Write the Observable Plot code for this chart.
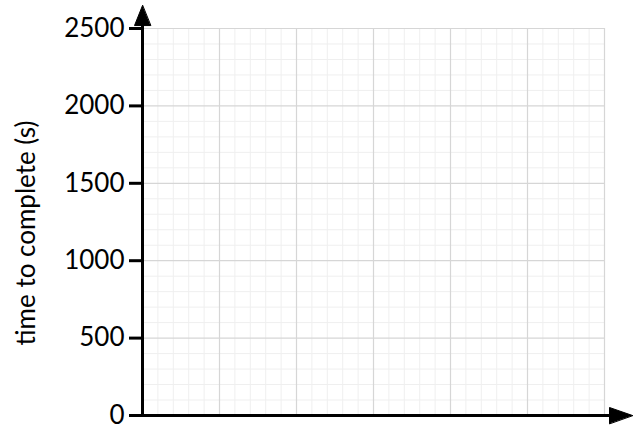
<!DOCTYPE html>
<html>
<head>
<meta charset="utf-8">
<script src="https://cdn.jsdelivr.net/npm/d3@7"></script>
<script src="https://cdn.jsdelivr.net/npm/@observablehq/plot@0.6"></script>
<style>
  html, body { margin: 0; padding: 0; background: #fff; }
  #chart svg { display: block; }
</style>
</head>
<body>
<div id="chart"></div>
<script>
// Axis ranges and tick values
const xDomain = [0, 6];
const yDomain = [0, 2500];
const xMajor = [1, 2, 3, 4, 5, 6];
const yMajor = [500, 1000, 1500, 2000, 2500];
const yTickLabels = [0, 500, 1000, 1500, 2000, 2500];
const xMinor = d3.range(0.2, 6.01, 0.2).filter(v => Math.abs(v - Math.round(v)) > 1e-6);
const yMinor = d3.range(100, 2501, 100).filter(v => v % 500 !== 0);
const yLabel = "time to complete (s)";

// Arrow ends (axis extents beyond the plotted frame)
const xArrowBase = 6.065;
const yArrowBase = 2519;

const triangle = (w) => ({
  draw(context, l) {
    context.moveTo(0, -l);
    context.lineTo(-w, 0);
    context.lineTo(w, 0);
    context.closePath();
  }
});

const chart = Plot.plot({
  width: 640,
  height: 448,
  marginLeft: 142,
  marginRight: 36,
  marginTop: 28,
  marginBottom: 33,
  style: {fontFamily: "Lato, sans-serif", background: "#fff", color: "#000"},
  x: {domain: xDomain, axis: null},
  y: {domain: yDomain, axis: null},
  marks: [
    Plot.ruleX(xMinor, {stroke: "#efefef", strokeWidth: 1}),
    Plot.ruleY(yMinor, {stroke: "#efefef", strokeWidth: 1}),
    Plot.ruleX(xMajor, {stroke: "#d6d6d6", strokeWidth: 1.2}),
    Plot.ruleY(yMajor, {stroke: "#d6d6d6", strokeWidth: 1.2}),
    Plot.axisY(yTickLabels, {
      anchor: "left",
      tickSize: 13,
      tickPadding: 5,
      strokeWidth: 3,
      fontSize: 26,
      fill: "#000",
      tickFormat: d => String(d),
      label: null
    }),
    Plot.ruleY([0], {x1: 0, x2: xArrowBase, stroke: "#000", strokeWidth: 3}),
    Plot.ruleX([0], {y1: 0, y2: yArrowBase, stroke: "#000", strokeWidth: 3}),
    Plot.vector([0], {x: xArrowBase, y: 0, length: 23, rotate: 90, anchor: "start",
      shape: triangle(8), fill: "#000", stroke: "#000", strokeWidth: 1}),
    Plot.vector([0], {x: 0, y: yArrowBase, length: 20, rotate: 0, anchor: "start",
      shape: triangle(8), fill: "#000", stroke: "#000", strokeWidth: 1}),
    Plot.text([yLabel], {
      frameAnchor: "left",
      text: d => d,
      rotate: -90,
      dx: -116,
      dy: 11,
      fontSize: 26,
      fill: "#000",
      textAnchor: "middle"
    })
  ]
});

document.getElementById("chart").appendChild(chart);
</script>
</body>
</html>
